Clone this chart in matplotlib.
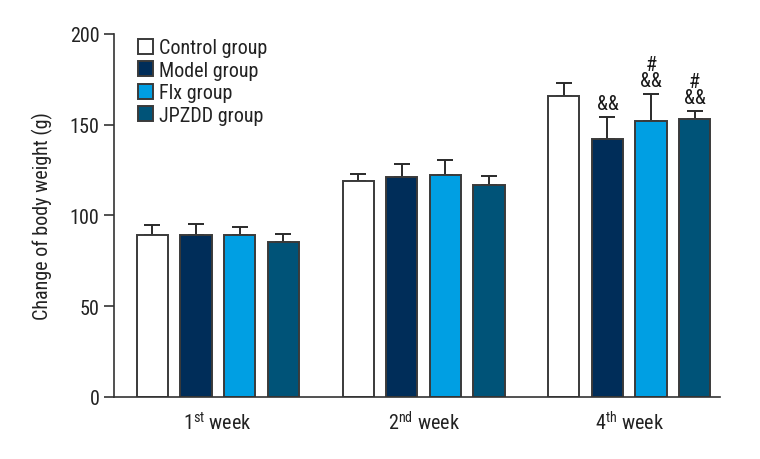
import matplotlib
matplotlib.use("Agg")
import matplotlib.pyplot as plt
from matplotlib import font_manager
import numpy as np

weeks = ["1$^{\\mathrm{st}}$ week", "2$^{\\mathrm{nd}}$ week", "4$^{\\mathrm{th}}$ week"]
groups = ["Control group", "Model group", "Flx group", "JPZDD group"]
means = {
    "Control group": [89, 119, 166],
    "Model group": [89, 121, 142],
    "Flx group": [89, 122.5, 152],
    "JPZDD group": [85.5, 116.5, 153],
}
errors = {
    "Control group": [6, 4, 7],
    "Model group": [6.5, 7.5, 12],
    "Flx group": [4.5, 8, 15],
    "JPZDD group": [4.5, 5, 4.5],
}
marks = {
    "Model group": ["", "", "&&"],
    "Flx group": ["", "", "#\n&&"],
    "JPZDD group": ["", "", "#\n&&"],
}
colors = ["#ffffff", "#002d59", "#009fe3", "#005378"]

avail = {f.name for f in font_manager.fontManager.ttflist}
fam = "DejaVu Sans"
for cand in ["Liberation Sans Narrow", "Roboto Condensed", "Open Sans Condensed",
             "DejaVu Sans Condensed", "Lato", "Roboto"]:
    if cand in avail:
        fam = cand
        break
plt.rcParams["font.family"] = [fam, "DejaVu Sans"]
plt.rcParams["mathtext.fontset"] = "custom"
plt.rcParams["mathtext.rm"] = fam

FS = 14.5
fig = plt.figure(figsize=(7.6, 4.6), dpi=100)
ax = fig.add_axes([0.150, 0.135, 0.797, 0.789])

x = np.arange(len(weeks))
step = 0.212
width = 0.152
for i, g in enumerate(groups):
    pos = x + (i - 1.5) * step
    ax.bar(pos, means[g], width, color=colors[i], edgecolor="#3a3a3a",
           linewidth=1.4, label=g, zorder=2)
    ax.errorbar(pos, means[g], yerr=[np.zeros(len(weeks)), errors[g]],
                fmt="none", ecolor="#2a2a2a", elinewidth=1.4, capsize=6,
                capthick=1.4, zorder=1)
    if g in marks:
        for j, m in enumerate(marks[g]):
            if m:
                ax.annotate(m, xy=(pos[j], means[g][j] + errors[g][j]),
                            xytext=(0, 3), textcoords="offset points",
                            ha="center", va="bottom", fontsize=14.5,
                            linespacing=0.8, color="#1a1a1a")

ax.set_xlim(-0.505, 2.44)
ax.set_ylim(0, 200)
ax.set_yticks([0, 50, 100, 150, 200])
ax.set_xticks(x)
ax.set_xticklabels(weeks, fontsize=FS, color="#222222")
ax.tick_params(axis="x", length=0, pad=10)
ax.tick_params(axis="y", labelsize=FS, length=7, width=1.2, color="#333333",
               labelcolor="#222222")
for s in ["top", "right"]:
    ax.spines[s].set_visible(False)
for s in ["left", "bottom"]:
    ax.spines[s].set_linewidth(1.2)
    ax.spines[s].set_color("#333333")
ax.set_ylabel("Change of body weight (g)", fontsize=FS, labelpad=12, color="#222222")

leg = ax.legend(loc="upper left", bbox_to_anchor=(0.026, 1.01), frameon=False,
                fontsize=FS, handlelength=0.75, handleheight=0.75,
                handletextpad=0.3, labelspacing=0.17, borderaxespad=0)
for t in leg.get_texts():
    t.set_color("#222222")

fig.savefig("out.png", dpi=100)
